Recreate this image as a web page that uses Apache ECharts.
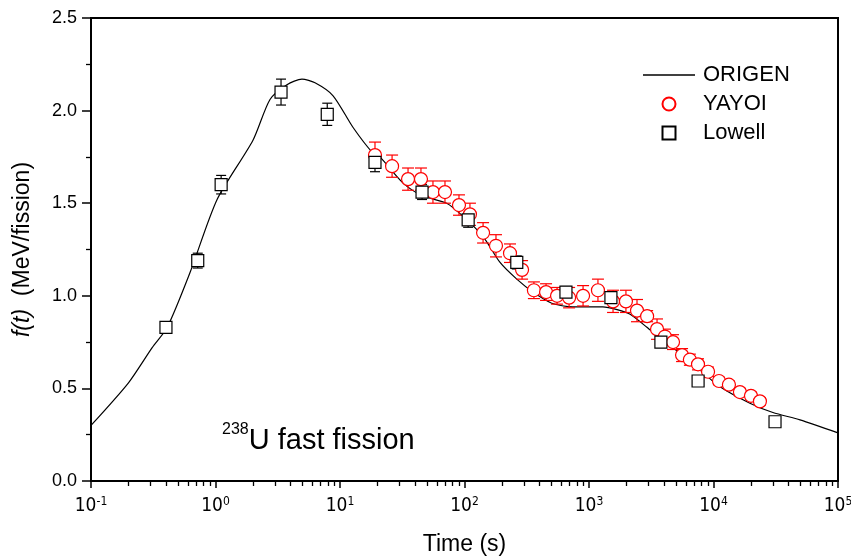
<!DOCTYPE html>
<html>
<head>
<meta charset="utf-8">
<script src="https://cdn.jsdelivr.net/npm/echarts@6/dist/echarts.min.js"></script>
<style>
  html, body { margin: 0; padding: 0; background: #fff; }
  #main { width: 851px; height: 558px; }
</style>
</head>
<body>
<div id="main"></div>
<script>
// ORIGEN calculation [time (s), f(t)]
const origenData = [
  [0.1, 0.30], [0.2, 0.53], [0.31, 0.72], [0.41, 0.83], [0.62, 1.12],
  [1.03, 1.52], [2.0, 1.84], [2.74, 2.06], [3.75, 2.14], [4.95, 2.17],
  [6.3, 2.15], [8.8, 2.08], [12.7, 1.91], [18.4, 1.77], [20.9, 1.75],
  [32, 1.61], [46, 1.54], [72, 1.50], [97, 1.43], [141, 1.32],
  [193, 1.18], [263, 1.09], [355, 1.02], [502, 0.96], [740, 0.94],
  [1290, 0.94], [1680, 0.925], [2140, 0.90], [2920, 0.83], [3720, 0.77],
  [5380, 0.69], [7760, 0.60], [11200, 0.51], [19600, 0.42], [30000, 0.37],
  [49500, 0.33], [100000, 0.26]
];

// YAYOI measurement [time, value, error]
const yayoiData = [
  [19.1, 1.76, 0.07], [26.2, 1.70, 0.06], [35.2, 1.63, 0.06], [44.7, 1.63, 0.06],
  [55.8, 1.56, 0.06], [69.7, 1.56, 0.06], [90.3, 1.49, 0.055], [110.6, 1.44, 0.06],
  [141, 1.34, 0.055], [179, 1.27, 0.06], [232, 1.23, 0.05], [290, 1.14, 0.05],
  [361, 1.03, 0.045], [452, 1.02, 0.045], [554, 1.00, 0.045], [692, 0.99, 0.055],
  [896, 1.00, 0.055], [1180, 1.03, 0.06], [1560, 0.97, 0.06], [1980, 0.97, 0.06],
  [2430, 0.92, 0.06], [2930, 0.89, 0.03], [3520, 0.82, 0.055], [4070, 0.78, 0.04],
  [4730, 0.75, 0.04], [5590, 0.68, 0.035], [6460, 0.655, 0.03], [7510, 0.63, 0.03],
  [9040, 0.59, 0.025], [11070, 0.54, 0.02], [13300, 0.52, 0.02], [16300, 0.48, 0.02],
  [20000, 0.46, 0.02], [23600, 0.43, 0.02]
];

// Lowell measurement [time, value, error]
const lowellData = [
  [0.40, 0.83, 0.025], [0.72, 1.19, 0.04], [1.11, 1.60, 0.05], [3.36, 2.10, 0.07],
  [7.9, 1.98, 0.06], [19.1, 1.72, 0.05], [45.6, 1.56, 0.04], [107, 1.41, 0.04],
  [263, 1.18, 0.035], [653, 1.02, 0.03], [1500, 0.99, 0.03], [3780, 0.75, 0.015],
  [7520, 0.54, 0], [31200, 0.32, 0.015]
];

const decades = [0.1, 1, 10, 100, 1000, 10000, 100000];

// minor ticks 2..9 inside each decade
let minorTicks = [];
decades.slice(0, -1).forEach(d => {
  for (let m = 2; m <= 9; m++) minorTicks.push(d * m);
});

const FONT = 'Arial, "Liberation Sans", sans-serif';
const NARROW = '"Liberation Sans Narrow", "Arial Narrow", "DejaVu Sans Condensed", Arial, sans-serif';

let myChart = echarts.init(document.getElementById('main'));

const errorBars = (color, capHalf) => (params, api) => {
  const x = api.value(0), y = api.value(1), e = api.value(2);
  if (!e) return null;
  const lo = api.coord([x, y - e]);
  const hi = api.coord([x, y + e]);
  const style = { stroke: color, lineWidth: 1.2 };
  return {
    type: 'group',
    children: [
      { type: 'line', shape: { x1: lo[0], y1: lo[1], x2: hi[0], y2: hi[1] }, style },
      { type: 'line', shape: { x1: lo[0] - capHalf, y1: lo[1], x2: lo[0] + capHalf, y2: lo[1] }, style },
      { type: 'line', shape: { x1: hi[0] - capHalf, y1: hi[1], x2: hi[0] + capHalf, y2: hi[1] }, style }
    ]
  };
};

let option = {
  animation: false,
  backgroundColor: '#fff',
  textStyle: { fontFamily: FONT },
  grid: {
    left: 91,
    right: 13,
    top: 18,
    bottom: 77,
    outerBoundsMode: 'none',
    show: true,
    borderColor: '#000',
    borderWidth: 2,
    backgroundColor: 'transparent'
  },
  legend: {
    orient: 'vertical',
    left: 638,
    top: 59,
    itemWidth: 52,
    itemHeight: 13,
    itemGap: 7,
    textStyle: { fontSize: 22, color: '#000', fontFamily: FONT, padding: [0, 0, 0, 3] },
    data: [
      { name: 'ORIGEN', icon: 'path://M0,0H54V1.4H0Z' },
      { name: 'YAYOI' },
      { name: 'Lowell', icon: 'path://M0,0H10V10H0Z' }
    ]
  },
  xAxis: [
    {
      type: 'log',
      logBase: 10,
      min: 0.1,
      max: 100000,
      name: 'Time (s)',
      nameLocation: 'middle',
      nameGap: 52,
      nameTextStyle: { fontSize: 23, color: '#000' },
      axisLine: { show: true, lineStyle: { color: '#000', width: 2 } },
      axisTick: { show: true, length: 7, customValues: decades, lineStyle: { color: '#000', width: 1.5 } },
      axisLabel: {
        customValues: decades,
        margin: 15,
        color: '#000',
        formatter: v => '{b|10}{s|' + Math.round(Math.log10(v)) + '}',
        rich: {
          b: { fontSize: 19, color: '#000', fontFamily: NARROW, verticalAlign: 'bottom', lineHeight: 20 },
          s: { fontSize: 12, color: '#000', fontFamily: NARROW, verticalAlign: 'top', lineHeight: 20 }
        }
      },
      splitLine: { show: false }
    },
    {
      type: 'log',
      logBase: 10,
      min: 0.1,
      max: 100000,
      position: 'bottom',
      axisLine: { show: false },
      axisTick: { show: true, length: 5, customValues: minorTicks, lineStyle: { color: '#000', width: 1.3 } },
      axisLabel: { show: false },
      splitLine: { show: false }
    }
  ],
  yAxis: {
    type: 'value',
    min: 0,
    max: 2.5,
    interval: 0.5,
    name: '{i|f(t)}  (MeV/fission)',
    nameLocation: 'middle',
    nameGap: 57,
    nameTextStyle: {
      fontSize: 23,
      color: '#000',
      rich: {
        i: { fontSize: 23, fontStyle: 'italic', color: '#000', fontFamily: FONT }
      }
    },
    axisLine: { show: true, lineStyle: { color: '#000', width: 2 } },
    axisTick: { show: true, length: 9, lineStyle: { color: '#000', width: 1.5 } },
    minorTick: { show: true, splitNumber: 2, length: 5, lineStyle: { color: '#000', width: 1.3 } },
    axisLabel: {
      fontSize: 18,
      color: '#000',
      margin: 14,
      formatter: v => v.toFixed(1)
    },
    splitLine: { show: false }
  },
  series: [
    {
      name: 'ORIGEN',
      type: 'line',
      data: origenData,
      smooth: 0.25,
      symbol: 'none',
      lineStyle: { color: '#000', width: 1.2 },
      itemStyle: { color: '#000' },
      z: 2
    },
    {
      name: 'YAYOI err',
      type: 'custom',
      renderItem: errorBars('#ff0000', 6),
      data: yayoiData,
      encode: { x: 0, y: 1 },
      z: 3
    },
    {
      name: 'Lowell err',
      type: 'custom',
      renderItem: errorBars('#000', 5),
      data: lowellData,
      encode: { x: 0, y: 1 },
      z: 3
    },
    {
      name: 'YAYOI',
      type: 'scatter',
      data: yayoiData.map(d => [d[0], d[1]]),
      symbol: 'circle',
      symbolSize: 13,
      itemStyle: { color: '#fff', borderColor: '#ff0000', borderWidth: 1.2, opacity: 1 },
      z: 4
    },
    {
      name: 'Lowell',
      type: 'scatter',
      data: lowellData.map(d => [d[0], d[1]]),
      symbol: 'rect',
      symbolSize: 12,
      itemStyle: { color: '#fff', borderColor: '#000', borderWidth: 1.2, opacity: 1 },
      z: 5
    }
  ],
  graphic: [
    {
      type: 'text',
      left: 222,
      top: 422,
      style: {
        text: '{s|238}{m|U fast fission}',
        rich: {
          s: { fontSize: 16, fill: '#000', fontFamily: FONT, verticalAlign: 'top', lineHeight: 33 },
          m: { fontSize: 29, fill: '#000', fontFamily: FONT, verticalAlign: 'bottom', lineHeight: 33 }
        }
      }
    }
  ]
};

myChart.setOption(option);
</script>
</body>
</html>
